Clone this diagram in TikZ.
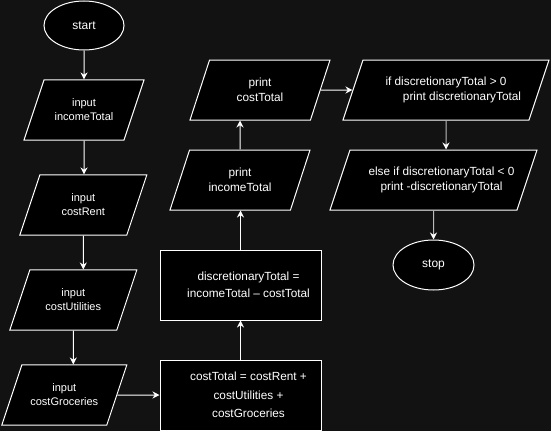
\documentclass[tikz,border=0pt]{standalone}
\usepackage{fontspec}
\setmainfont{Liberation Sans}
\usetikzlibrary{shapes.geometric,arrows.meta}
\definecolor{fcbg}{HTML}{121212}
\definecolor{fcgrey}{HTML}{BBBBBB}
\newcommand{\ind}{\hspace*{16pt}}
\tikzset{
  termb/.style={ellipse, draw=white, fill=black, text=white, line width=1pt,
    inner sep=0pt, minimum width=80pt, minimum height=49pt,
    font=\fontsize{12}{14}\selectfont},
  iopb/.style={trapezium, trapezium left angle=71.57, trapezium right angle=108.43,
    trapezium stretches body, draw=white, fill=black, text=white, line width=1pt,
    align=center, inner xsep=0pt, inner ysep=17.5pt, minimum height=60pt},
  inpb/.style={iopb, inner ysep=19pt, font=\fontsize{11}{14}\selectfont},
  procb/.style={rectangle, draw=white, fill=black, text=white, line width=1pt,
    align=center, inner sep=0pt, minimum width=161pt, minimum height=70pt},
  flow/.style={-{Stealth[length=7pt, width=7pt]}, line width=1pt, draw=white},
  flowg/.style={-{Stealth[length=7pt, width=7pt, color=white]}, line width=1pt, draw=fcgrey},
}

\begin{document}
\begin{tikzpicture}[x=1pt, y=-1pt, font=\fontsize{11.8}{15}\selectfont]
    \fill[fcbg] (0,0) rectangle (551,431);
    \useasboundingbox (0,0) rectangle (551,431);
    \node[termb] (start) at (84,25.5) {start};
    \node[inpb, minimum width=120pt] (inc) at (84,110) {input\\incomeTotal};
    \node[inpb, minimum width=127pt] (rent) at (83.3,205) {input\\costRent};
    \node[inpb, minimum width=127pt] (util) at (73.3,300) {input\\costUtilities};
    \node[inpb, minimum width=125pt] (groc) at (64.3,395) {input\\costGroceries};
    \node[procb, font=\fontsize{11.8}{18.3}\selectfont] (tot) at (240.5,395)
      {\ind costTotal = costRent +\\\ind costUtilities +\\\ind costGroceries};
    \node[procb, font=\fontsize{11.8}{16.6}\selectfont] (disc) at (240.5,285)
      {\ind discretionaryTotal =\\\ind incomeTotal – costTotal};
    \node[iopb, minimum width=140pt] (pinc) at (240,180) {print\\incomeTotal};
    \node[iopb, minimum width=140pt] (pcost) at (260,90) {print\\costTotal};
    \node[iopb, inner ysep=17pt, minimum width=206pt] (ifp) at (446,90)
      {if discretionaryTotal > 0\\\hspace*{32pt}print discretionaryTotal};
    \node[iopb, inner ysep=17pt, minimum width=207pt] (elif) at (433.5,180)
      {\ind else if discretionaryTotal < 0\\\ind print -discretionaryTotal};
    \node[termb, minimum width=81pt, minimum height=50pt] (stop) at (433.5,265) {stop};

    \draw[flow] (start) -- (inc);
    \draw[flow] (inc) -- (inc |- rent.north);
    \draw[flow] (rent) -- (rent |- util.north);
    \draw[flow] (util) -- (util |- groc.north);
    \draw[flow] (groc) -- (tot);
    \draw[flow] (tot) -- (disc);
    \draw[flow] (disc) -- (disc |- pinc.south);
    \draw[flow] (pinc) -- (pinc |- pcost.south);
    \draw[flow] (pcost) -- (ifp);
    \draw[flowg] (ifp) -- (ifp |- elif.north);
    \draw[flowg] (elif) -- (stop);
  \end{tikzpicture}
\end{document}
